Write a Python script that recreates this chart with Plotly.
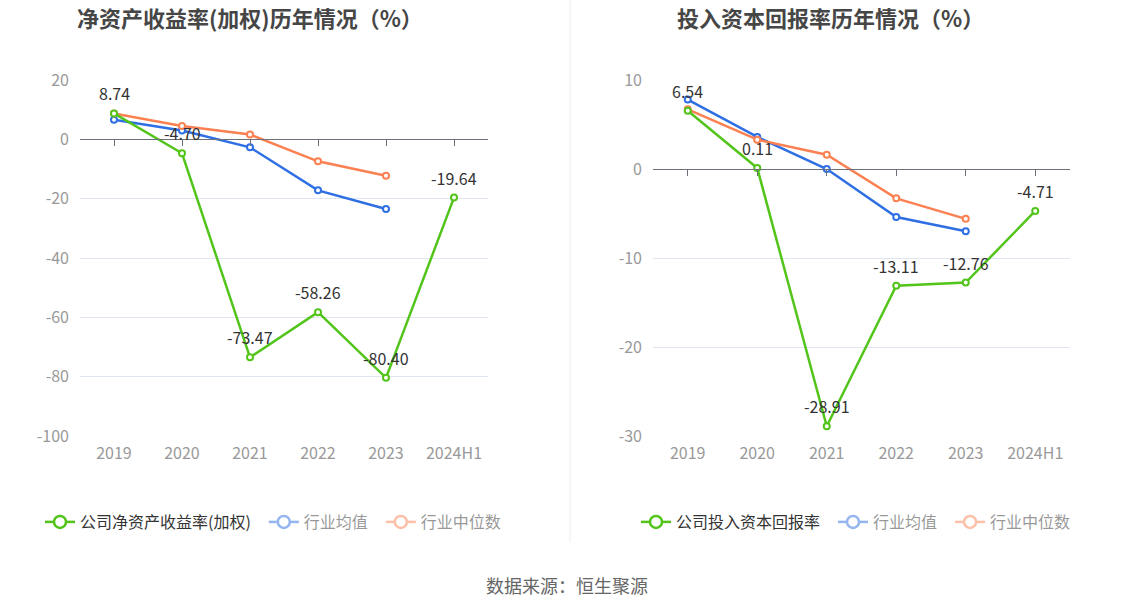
import plotly.graph_objects as go

years = ['2019', '2020', '2021', '2022', '2023', '2024H1']

# 净资产收益率(加权)
roe_company = [8.74, -4.70, -73.47, -58.26, -80.40, -19.64]
roe_avg = [6.6, 3.0, -2.7, -17.2, -23.5, None]
roe_median = [8.7, 4.5, 1.6, -7.4, -12.3, None]
roe_ticks = [-100, -80, -60, -40, -20, 0, 20]

# 投入资本回报率
roic_company = [6.54, 0.11, -28.91, -13.11, -12.76, -4.71]
roic_avg = [7.8, 3.6, 0.0, -5.4, -7.0, None]
roic_median = [6.7, 3.3, 1.6, -3.3, -5.6, None]
roic_ticks = [-30, -20, -10, 0, 10]

GREEN = '#52c41a'
BLUE = '#2f6fe4'
ORANGE = '#fb8152'
FONT = 'Noto Sans CJK SC'
GAP = '\u2002'

W, H = 1134, 612
y_dom = [1 - 436 / H, 1 - 80 / H]
left_dom = [80 / W, 488 / W]
right_dom = [653 / W, 1070 / W]


def zero_pos(ticks):
    lo, hi = min(ticks), max(ticks)
    return y_dom[0] + (0 - lo) / (hi - lo) * (y_dom[1] - y_dom[0])


fig = go.Figure()


def add_panel(company, avg, median, company_name, xa, ya, za, legend):
    idx = list(range(len(years)))
    # empty trace so the zero-line axis gets drawn
    fig.add_trace(go.Scatter(x=idx, y=[None] * len(idx), xaxis=za, yaxis=ya,
                             mode='lines', showlegend=False, hoverinfo='skip'))
    for vals, color in [(avg, BLUE), (median, ORANGE), (company, GREEN)]:
        fig.add_trace(go.Scatter(
            x=idx, y=vals, mode='lines+markers', xaxis=xa, yaxis=ya,
            line=dict(color=color, width=2.5),
            marker=dict(size=6, color='white', line=dict(color=color, width=2)),
            showlegend=False, hoverinfo='skip',
        ))
    # legend entries
    for name, color, vis in [(company_name + GAP, GREEN, True),
                             ('行业均值' + GAP, BLUE, 'legendonly'),
                             ('行业中位数', ORANGE, 'legendonly')]:
        fig.add_trace(go.Scatter(
            x=[None], y=[None], mode='lines+markers', name=name, visible=vis,
            xaxis=xa, yaxis=ya, legend=legend,
            line=dict(color=color, width=2.5),
            marker=dict(size=12, color='white', line=dict(color=color, width=2.5)),
        ))
    for i, v in enumerate(company):
        fig.add_annotation(
            x=i, y=v, xref=xa, yref=ya, text=f'{v:.2f}', showarrow=False,
            yshift=20, font=dict(size=16, color='#333', family=FONT),
        )


add_panel(roe_company, roe_avg, roe_median, '公司净资产收益率(加权)', 'x', 'y', 'x3', 'legend')
add_panel(roic_company, roic_avg, roic_median, '公司投入资本回报率', 'x2', 'y2', 'x4', 'legend2')

xcommon = dict(
    range=[-0.5, len(years) - 0.5], tickmode='array',
    tickvals=list(range(len(years))), ticktext=years,
    showgrid=False, zeroline=False, showline=False, ticks='', automargin=False,
    tickfont=dict(size=16, color='#999', family=FONT), ticklabelstandoff=6,
)
zcommon = dict(
    range=[-0.5, len(years) - 0.5], tickmode='array',
    tickvals=list(range(len(years))), showticklabels=False,
    showgrid=False, zeroline=False, showline=True, linecolor='#6e7079',
    linewidth=1, ticks='outside', ticklen=6, tickcolor='#6e7079',
    anchor='free', automargin=False,
)
ycommon = dict(
    showgrid=True, gridcolor='#e0e6f1', zeroline=False, showline=False,
    tickfont=dict(size=16, color='#999', family=FONT), ticklabelstandoff=10,
    domain=y_dom, automargin=False, tickmode='array',
)

fig.update_layout(
    width=W, height=H,
    margin=dict(l=0, r=0, t=0, b=0, pad=0, autoexpand=False),
    plot_bgcolor='white', paper_bgcolor='white',
    font=dict(family=FONT),
    xaxis=dict(domain=left_dom, anchor='y', **xcommon),
    xaxis2=dict(domain=right_dom, anchor='y2', **xcommon),
    xaxis3=dict(domain=left_dom, overlaying='x', position=zero_pos(roe_ticks), **zcommon),
    xaxis4=dict(domain=right_dom, overlaying='x2', position=zero_pos(roic_ticks), **zcommon),
    yaxis=dict(range=[min(roe_ticks), max(roe_ticks)], tickvals=roe_ticks,
               ticktext=[str(t) for t in roe_ticks], anchor='x', **ycommon),
    yaxis2=dict(range=[min(roic_ticks), max(roic_ticks)], tickvals=roic_ticks,
                ticktext=[str(t) for t in roic_ticks], anchor='x2', **ycommon),
    legend=dict(orientation='h', x=40 / W, y=1 - 522 / H, yanchor='middle',
                font=dict(size=16, color='#333', family=FONT), itemclick=False),
    legend2=dict(orientation='h', x=636 / W, y=1 - 522 / H, yanchor='middle',
                 font=dict(size=16, color='#333', family=FONT), itemclick=False),
    shapes=[dict(type='line', xref='paper', yref='paper', x0=570 / W, x1=570 / W,
                 y0=1 - 542 / H, y1=1, line=dict(color='#eeeeee', width=1))],
    annotations=list(fig.layout.annotations) + [
        dict(text='<b>净资产收益率(加权)历年情况（%）</b>', x=250 / W, y=1 - 17 / H,
             xref='paper', yref='paper', showarrow=False, xanchor='center', yanchor='middle',
             font=dict(size=22, color='#464646', family=FONT)),
        dict(text='<b>投入资本回报率历年情况（%）</b>', x=830 / W, y=1 - 17 / H,
             xref='paper', yref='paper', showarrow=False, xanchor='center', yanchor='middle',
             font=dict(size=22, color='#464646', family=FONT)),
        dict(text='数据来源：恒生聚源', x=0.5, y=1 - 585 / H,
             xref='paper', yref='paper', showarrow=False, xanchor='center', yanchor='middle',
             font=dict(size=18, color='#666', family=FONT)),
    ],
)

fig.write_html('out.html', config={'displayModeBar': False},
               post_script="document.body.style.margin='0';")
